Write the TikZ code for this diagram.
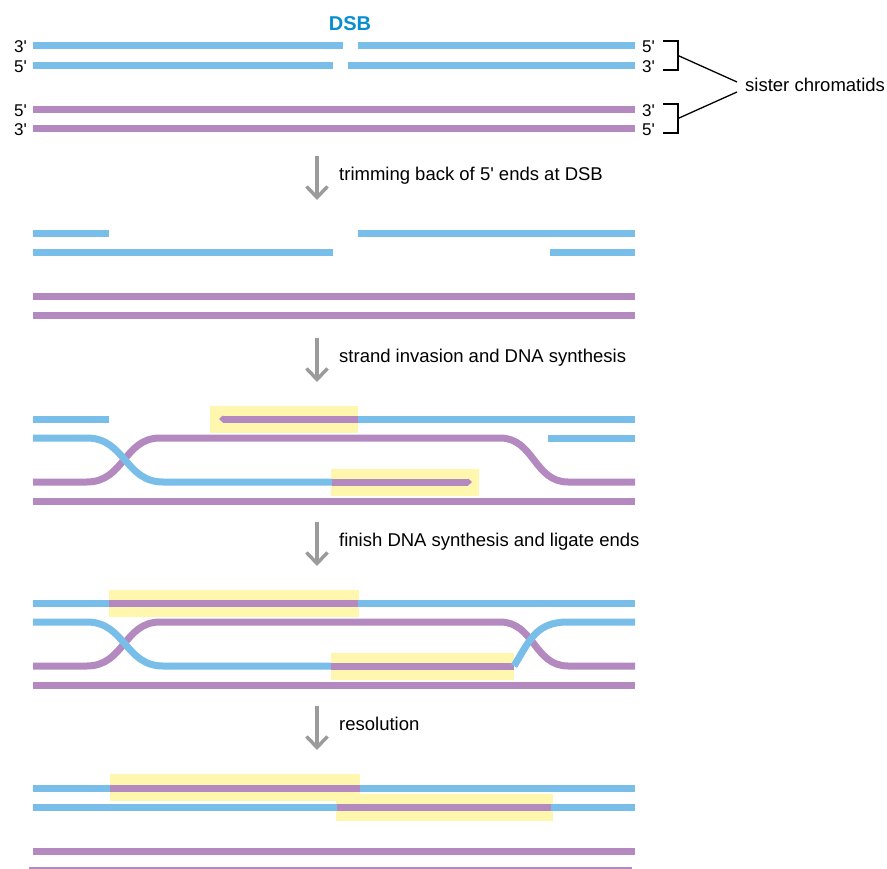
\documentclass[tikz,border=0pt]{standalone}
\usepackage{fontspec}
\setmainfont{Liberation Sans}
\definecolor{dnablue}{RGB}{120,190,233}
\definecolor{dnapurple}{RGB}{179,137,191}
\definecolor{newdna}{RGB}{255,247,174}
\definecolor{stepgray}{RGB}{155,155,155}
\definecolor{dsbblue}{RGB}{8,142,208}
\usetikzlibrary{arrows.meta}
\newcommand{\apos}{\textquotesingle}

\begin{document}
\begin{tikzpicture}[x=1pt, y=-1pt,
  bstrand/.style={line width=7pt, dnablue},
  pstrand/.style={line width=7pt, dnapurple},
  growing/.style={-{Triangle[length=4pt,width=7pt]}},
  patch/.style={fill=newdna},
  endlab/.style={font=\fontsize{17}{20}\selectfont, inner sep=0pt},
  steplab/.style={font=\fontsize{18.5}{22}\selectfont, inner sep=0pt, anchor=base west}]
  \useasboundingbox (0,0) rectangle (887,869);

  \node[font=\fontsize{20}{24}\selectfont\bfseries, text=dsbblue] (dsb) at (350,24) {DSB};
  \draw[bstrand] (33,46) -- (343,46) (358,46) -- (635,46);
  \draw[bstrand] (33,65.5) -- (333,65.5) (348,65.5) -- (635,65.5);
  \draw[pstrand] (33,109.5) -- (635,109.5) (33,129) -- (635,129);
  \foreach \y/\l/\r [count=\i] in {46/3/5, 65.5/5/3, 109.5/5/3, 129/3/5}{
    \node[endlab, anchor=base east] (left\i) at (27,\y+7) {\l\apos};
    \node[endlab, anchor=base west] (right\i) at (642,\y+7) {\r\apos};
  }

  \draw[line width=1.3pt] (663,41) -- (678,41) -- (678,70) -- (663,70);
  \draw[line width=1.3pt] (663,104) -- (678,104) -- (678,133) -- (663,133);
  \coordinate (upper) at (678,55.5);
  \coordinate (lower) at (678,118.5);
  \node[steplab] (sis) at (745,92) {sister chromatids};
  \draw[line width=1.3pt] (upper) -- ([xshift=-8pt,yshift=10pt]sis.base west);
  \draw[line width=1.3pt] (lower) -- ([xshift=-8pt]sis.base west);

  \foreach \y/\txt [count=\i] in {156/trimming back of 5\apos{} ends at DSB,
      338/strand invasion and DNA synthesis,
      522/finish DNA synthesis and ligate ends,
      706/resolution}{
    \coordinate (from\i) at (317,\y);
    \coordinate (to\i) at (317,\y+44);
    \draw[stepgray, line width=3.5pt, -{Straight Barb[length=11pt,width=21pt]}] (from\i) -- (to\i);
    \node[steplab] (step\i) at (339,\y+24.5) {\txt};
  }

  \draw[bstrand] (33,234) -- (109,234) (358,234) -- (635,234);
  \draw[bstrand] (33,253) -- (333,253) (550,253) -- (635,253);
  \draw[pstrand] (33,297) -- (635,297) (33,316) -- (635,316);

  \fill[patch] (210,405.7) rectangle (357.7,432.7);
  \fill[patch] (331,469) rectangle (479,495.7);
  \draw[bstrand] (33,419) -- (109,419) (358,419) -- (635,419);
  \draw[pstrand, growing] (358,419) -- (219,419);
  \draw[bstrand] (548,438) -- (635,438);
  \draw[pstrand] (33,482) -- (87,482) .. controls (124,482) and (124,438) .. (160,438) -- (500,438)
    .. controls (534,438) and (534,482) .. (568,482) -- (635,482);
  \draw[bstrand] (33,438) -- (87,438) .. controls (125,438) and (125,482) .. (163,482) -- (332,482);
  \draw[pstrand, growing] (332,482) -- (472,482);
  \draw[pstrand] (33,501.5) -- (635,501.5);

  \fill[patch] (109,590) rectangle (359,616.7);
  \fill[patch] (331,652.7) rectangle (514,680);
  \draw[bstrand] (33,603) -- (109,603) (358,603) -- (635,603);
  \draw[pstrand] (109,603) -- (358,603);
  \draw[pstrand] (33,666) -- (87,666) .. controls (124,666) and (124,622) .. (160,622) -- (500,622)
    .. controls (534,622) and (534,666) .. (568,666) -- (635,666);
  \draw[bstrand] (33,622) -- (87,622) .. controls (125,622) and (125,666) .. (163,666) -- (331,666);
  \draw[pstrand] (331,666) -- (514,666);
  \draw[bstrand] (514,666) .. controls (530,640) and (536,622) .. (568,622) -- (635,622);
  \draw[pstrand] (33,685) -- (635,685);

  \fill[patch] (110,774) rectangle (360,800.7);
  \fill[patch] (336,793.7) rectangle (553,821);
  \draw[bstrand] (33,788) -- (110,788) (360,788) -- (635,788);
  \draw[pstrand] (110,788) -- (360,788);
  \draw[bstrand] (33,807) -- (337,807) (551,807) -- (635,807);
  \draw[pstrand] (337,807) -- (551,807);
  \draw[pstrand] (33,851) -- (635,851) (29,870) -- (632,870);
\end{tikzpicture}
\end{document}
